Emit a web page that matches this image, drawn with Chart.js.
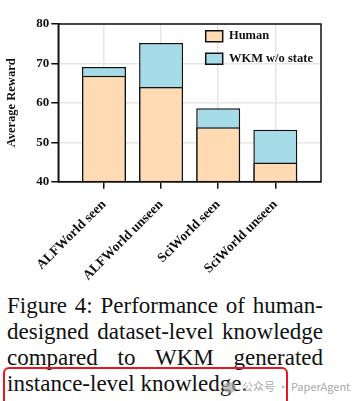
<!DOCTYPE html>
<html><head><meta charset="utf-8">
<script src="https://cdn.jsdelivr.net/npm/chart.js@4"></script>
<style>
html,body{margin:0;padding:0;background:#fff;width:355px;height:401px;overflow:hidden;position:relative}
#wrap{position:absolute;left:0;top:0;width:355px;height:290px}
#cap{position:absolute;left:7px;top:292.5px;width:316px;font-family:"Liberation Serif","Times New Roman",serif;font-size:23px;line-height:26px;color:#111}
#cap div{white-space:nowrap}
#cap .j{text-align:justify;text-align-last:justify}
#box{position:absolute;left:3px;top:366.5px;width:281px;height:60px;border:2px solid #e5191f;border-radius:6px}
#wm{position:absolute;left:223px;top:378px;font-family:"Noto Sans CJK SC","Noto Sans",sans-serif;font-size:11px;color:rgba(150,150,150,0.85);white-space:nowrap}
#wm .ic{display:inline-block;width:13px;height:11px;border-radius:50%;background:rgba(170,170,170,0.7);vertical-align:-2px;margin-right:6px}
</style></head>
<body>
<div id="wrap"><canvas id="c" width="355" height="290"></canvas></div>
<div id="cap">
<div class="j">Figure 4: Performance of human-</div>
<div class="j">designed dataset-level knowledge</div>
<div class="j">compared to WKM generated</div>
<div>instance-level knowledge.</div>
</div>
<div id="box"></div>
<div id="wm"><span class="ic"></span>公众号 · PaperAgent</div>
<script>
const categories = ["ALFWorld seen", "ALFWorld unseen", "SciWorld seen", "SciWorld unseen"];
const humanValues = [66.9, 64.0, 53.8, 44.9];
const wkmValues = [69.1, 75.2, 58.6, 53.2];
const yTickValues = [40, 50, 60, 70, 80];
const seriesNames = ["Human", "WKM w/o state"];

const serif = '"Liberation Serif","Times New Roman",serif';
const ink = '#111';

const framePlugin = {
  id: 'frame',
  beforeDraw(chart) {
    const lg = chart.legend;
    if (lg) {
      lg.left = 195.7; lg.top = 20;
      lg.right = lg.left + lg.width; lg.bottom = lg.top + 150;
    }
  },
  afterDraw(chart) {
    const a = chart.chartArea, ctx = chart.ctx;
    ctx.save();
    ctx.strokeStyle = ink; ctx.lineWidth = 1.5;
    ctx.strokeRect(a.left, a.top, a.right - a.left, a.bottom - a.top);
    ctx.restore();
  }
};

new Chart(document.getElementById('c'), {
  type: 'bar',
  data: {
    datasets: [
      { label: seriesNames[0], data: humanValues.map((v, i) => ({x: i, y: v})),
        backgroundColor: '#FFDAB2', borderColor: ink, borderWidth: 1.5, borderSkipped: false },
      { label: seriesNames[1], data: wkmValues.map((v, i) => ({x: i, y: v})),
        backgroundColor: '#A6DBE8', borderColor: ink, borderWidth: 1.5, borderSkipped: false }
    ]
  },
  options: {
    responsive: false, animation: false, devicePixelRatio: 1,
    layout: { padding: { top: 24, right: 34, left: 0, bottom: 0 } },
    datasets: { bar: { grouped: false, categoryPercentage: 0.77, barPercentage: 1 } },
    plugins: {
      tooltip: { enabled: false },
      legend: {
        position: 'chartArea', align: 'start',
        labels: { boxWidth: 17, boxHeight: 11, padding: 10, color: ink,
          font: { family: serif, weight: 'bold', size: 12.5 } }
      }
    },
    scales: {
      x: {
        type: 'linear', min: -0.8, max: 3.8, offset: false,
        afterBuildTicks(s) { s.ticks = categories.map((c, i) => ({ value: i })); },
        afterFit(s) { s.height = 290 - 181.7; },
        ticks: { autoSkip: false, minRotation: 45, maxRotation: 45, padding: 8, color: ink,
          font: { family: serif, weight: 'bold', size: 13.5 },
          callback: (v) => categories[v] },
        grid: { offset: false, color: '#e6e6e6', lineWidth: 1.5, tickColor: ink, tickWidth: 1.5, tickLength: 7 },
        border: { color: ink, width: 1.5 }
      },
      y: {
        min: 40, max: 80,
        afterBuildTicks(s) { s.ticks = yTickValues.map(v => ({ value: v })); },
        afterFit(s) { s.width = 58.3; },
        ticks: { padding: 2, color: ink, font: { family: serif, weight: 'bold', size: 13 } },
        grid: { color: '#e6e6e6', lineWidth: 1.5, tickColor: ink, tickWidth: 1.5, tickLength: 7 },
        border: { color: ink, width: 1.5 },
        title: { display: true, text: 'Average Reward', color: ink, padding: { top: 4, bottom: 0 },
          font: { family: serif, weight: 'bold', size: 12.5 } }
      }
    }
  },
  plugins: [framePlugin]
});
</script>
</body></html>
